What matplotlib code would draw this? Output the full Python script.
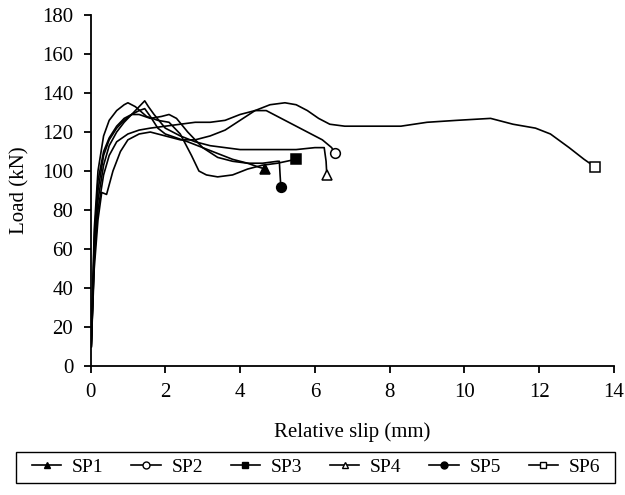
import numpy as np
import matplotlib.pyplot as plt
from matplotlib.lines import Line2D
from matplotlib.patches import Rectangle

plt.rcParams['font.family'] = ['Liberation Serif', 'DejaVu Serif']
plt.rcParams['font.size'] = 15

# series: slip (mm), load (kN)
sp1_x = [0.02, 0.1, 0.2, 0.35, 0.5, 0.7, 0.9, 1.1, 1.3, 1.45, 1.6, 1.8, 2.0, 2.3, 2.6, 3.0, 3.4, 3.8, 4.2, 4.5, 4.68]
sp1_y = [10, 60, 90, 108, 116, 122, 126, 129, 131, 132, 128, 122, 119, 117, 115, 112, 109, 106, 104, 102, 101]

sp2_x = [0.02, 0.1, 0.2, 0.35, 0.5, 0.7, 1.0, 1.3, 1.6, 2.0, 2.4, 2.8, 3.2, 3.6, 4.0, 4.4, 4.7, 5.0, 5.4, 5.8, 6.2, 6.45, 6.53]
sp2_y = [10, 55, 80, 98, 108, 115, 119, 121, 122, 123, 124, 125, 125, 126, 129, 131, 131, 128, 124, 120, 116, 112, 109]

sp3_x = [0.02, 0.1, 0.2, 0.35, 0.5, 0.7, 0.9, 1.0, 1.2, 1.5, 1.8, 2.1, 2.4, 2.7, 2.9, 3.1, 3.4, 3.8, 4.2, 4.6, 5.0, 5.49]
sp3_y = [10, 70, 100, 118, 126, 131, 134, 135, 133, 128, 126, 125, 119, 108, 100, 98, 97, 98, 101, 103, 104, 106]

sp4_x = [0.02, 0.1, 0.2, 0.35, 0.5, 0.7, 0.9, 1.1, 1.3, 1.45, 1.55, 1.7, 2.0, 2.4, 2.8, 3.2, 3.6, 4.0, 4.5, 5.0, 5.5, 6.0, 6.25, 6.3, 6.32]
sp4_y = [10, 55, 85, 103, 113, 120, 125, 129, 133, 136, 133, 129, 122, 118, 115, 113, 112, 111, 111, 111, 111, 112, 112, 105, 98]

sp5_x = [0.02, 0.1, 0.2, 0.35, 0.5, 0.7, 0.9, 1.1, 1.3, 1.6, 1.9, 2.1, 2.3, 2.6, 3.0, 3.4, 3.8, 4.2, 4.6, 5.0, 5.05, 5.07, 5.09]
sp5_y = [10, 65, 95, 110, 117, 123, 127, 129, 129, 127, 128, 129, 127, 120, 112, 107, 105, 104, 104, 105, 105, 98, 92]

sp6_x = [0.02, 0.1, 0.2, 0.3, 0.43, 0.6, 0.8, 1.0, 1.3, 1.6, 2.0, 2.4, 2.8, 3.2, 3.6, 4.0, 4.4, 4.8, 5.2, 5.5, 5.8, 6.1, 6.4,
         6.8, 7.5, 8.3, 9.0, 9.8, 10.7, 11.3, 11.9, 12.3, 12.8, 13.2, 13.5]
sp6_y = [10, 50, 75, 89, 88, 100, 110, 116, 119, 120, 118, 116, 116, 118, 121, 126, 131, 134, 135, 134, 131, 127, 124,
         123, 123, 123, 125, 126, 127, 124, 122, 119, 112, 106, 102]

labels = ['SP1', 'SP2', 'SP3', 'SP4', 'SP5', 'SP6']
markers = ['^', 'o', 's', '^', 'o', 's']
fills = ['black', 'white', 'black', 'white', 'black', 'white']
series = [(sp1_x, sp1_y), (sp2_x, sp2_y), (sp3_x, sp3_y), (sp4_x, sp4_y), (sp5_x, sp5_y), (sp6_x, sp6_y)]

fig = plt.figure(figsize=(6.25, 4.95), dpi=100)
ax = fig.add_axes([0.1448, 0.2606, 0.8376, 0.709])

handles = []
for (x, y), lab, m, fc in zip(series, labels, markers, fills):
    ax.plot(x, y, color='black', lw=1.2)
    ax.plot(x[-1], y[-1], marker=m, color='black', mfc=fc, ms=7, mew=1.1, ls='none')
    handles.append(Line2D([], [], color='black', lw=1.2, marker=m, mfc=fc, ms=5, mew=1.0))

ax.set_xlim(0, 14)
ax.set_ylim(0, 180)
ax.set_xticks(np.arange(0, 15, 2))
ax.set_yticks(np.arange(0, 181, 20))
ax.spines['top'].set_visible(False)
ax.spines['right'].set_visible(False)
ax.tick_params(direction='out', length=5, width=1.3, labelsize=15, pad=7.5)
ax.spines['left'].set_linewidth(1.3)
ax.spines['bottom'].set_linewidth(1.3)
ax.set_xlabel('Relative slip (mm)', fontsize=15)
ax.set_ylabel('Load (kN)', fontsize=15)
ax.xaxis.set_label_coords(0.5, -0.16)
ax.yaxis.set_label_coords(-0.117, 0.5)

# legend frame drawn separately
fig.patches.append(Rectangle((16 / 625, (495 - 483) / 495), 599 / 625, 31 / 495,
                             transform=fig.transFigure, fill=False, edgecolor='black', lw=1.0))
leg = fig.legend(handles, labels, loc='center', ncol=6, mode='expand',
                 bbox_to_anchor=(32 / 625, 0.0556 - 0.03, (600 - 32) / 625, 0.06),
                 frameon=False, handlelength=1.5, handletextpad=0.55,
                 borderpad=0, borderaxespad=0, fontsize=14)

plt.savefig('out.png', dpi=100)
